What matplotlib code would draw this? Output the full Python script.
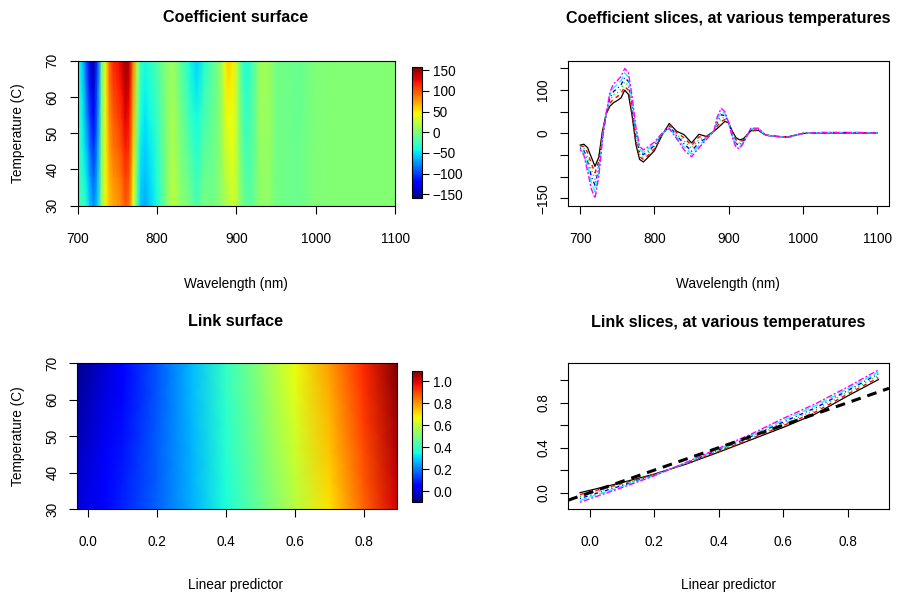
import numpy as np
import matplotlib
matplotlib.use('Agg')
import matplotlib.pyplot as plt

plt.rcParams['font.family'] = ['Liberation Sans', 'DejaVu Sans']
plt.rcParams['lines.scale_dashes'] = False
plt.rcParams['axes.unicode_minus'] = True

# ---- dados ----
temperaturas = [30, 38, 46, 54, 62, 70]

comprimento_onda = [700, 705, 710, 715, 720, 725, 730, 735, 740, 745, 750, 755, 760, 765,
                    770, 775, 780, 785, 790, 800, 810, 820, 830, 840, 850, 860, 870, 880,
                    885, 890, 895, 900, 905, 910, 915, 920, 930, 940, 950, 965, 980, 1000,
                    1025, 1050, 1075, 1100]

coef_t30 = [-27, -25, -33, -55, -76, -55, 5, 45, 63, 71, 76, 82, 100, 90,
            40, -25, -60, -66, -58, -40, -5, 23, 5, -3, -22, -2, -7, 5,
            12, 20, 28, 24, 5, -10, -15, -12, 6, 7, -4, -7, -8, 0,
            1, 1, 1, 1]
coef_t38 = [-29, -30, -44, -70, -91, -64, 1, 45, 69, 80, 85, 92, 108, 100,
            49, -17, -54, -60, -53, -36, -4, 21, 2, -10, -28, -8, -8, 5,
            18, 28, 32, 24, 2, -15, -19, -14, 7, 8, -4, -7, -8, 0,
            1, 1, 1, 1]
coef_t46 = [-31, -35, -55, -84, -106, -73, -3, 45, 76, 89, 94, 102, 119, 110,
            58, -9, -48, -55, -48, -32, -3, 18, -2, -17, -35, -14, -10, 5,
            23, 35, 37, 24, -1, -19, -23, -16, 8, 9, -4, -7, -8, 0,
            1, 1, 1, 1]
coef_t54 = [-34, -40, -66, -99, -120, -82, -7, 45, 82, 97, 104, 112, 129, 120,
            67, -1, -42, -49, -43, -28, -2, 16, -5, -24, -41, -21, -11, 5,
            29, 43, 41, 25, -4, -24, -27, -18, 10, 10, -4, -7, -9, 0,
            2, 2, 2, 1]
coef_t62 = [-36, -45, -77, -113, -135, -91, -11, 45, 89, 106, 113, 122, 140, 130,
            76, 7, -36, -44, -38, -24, -1, 13, -9, -31, -48, -27, -13, 5,
            34, 50, 46, 25, -7, -28, -31, -20, 11, 11, -4, -7, -9, 0,
            2, 2, 2, 1]
coef_t70 = [-38, -50, -88, -128, -150, -100, -15, 45, 95, 115, 122, 132, 150, 140,
            85, 15, -30, -38, -33, -20, 0, 11, -12, -38, -54, -33, -14, 5,
            40, 58, 50, 25, -10, -33, -35, -22, 12, 12, -4, -7, -9, 0,
            2, 2, 2, 1]

preditor_linear = [-0.03, 0.05, 0.1, 0.2, 0.3, 0.4, 0.5, 0.6, 0.7, 0.8, 0.895]

link_t30 = [0.000, 0.055, 0.090, 0.165, 0.255, 0.360, 0.470, 0.580, 0.700, 0.860, 1.005]
link_t38 = [-0.017, 0.043, 0.081, 0.162, 0.258, 0.367, 0.480, 0.596, 0.718, 0.876, 1.022]
link_t46 = [-0.034, 0.031, 0.072, 0.159, 0.261, 0.374, 0.490, 0.612, 0.736, 0.892, 1.039]
link_t54 = [-0.051, 0.019, 0.063, 0.156, 0.264, 0.381, 0.500, 0.628, 0.754, 0.908, 1.056]
link_t62 = [-0.068, 0.007, 0.054, 0.153, 0.267, 0.388, 0.510, 0.644, 0.772, 0.924, 1.073]
link_t70 = [-0.085, -0.005, 0.045, 0.150, 0.270, 0.395, 0.520, 0.660, 0.790, 0.940, 1.090]

coef_slices = [coef_t30, coef_t38, coef_t46, coef_t54, coef_t62, coef_t70]
link_slices = [link_t30, link_t38, link_t46, link_t54, link_t62, link_t70]

# estilos das linhas (paleta antiga do R, lty 1..6)
cores = ['black', 'red', '#00CD00', 'blue', 'cyan', 'magenta']
px = 0.72
tracos = ['-', (0, (4*px, 4*px)), (0, (1*px, 3*px)), (0, (1*px, 3*px, 4*px, 3*px)),
          (0, (7*px, 3*px)), (0, (2*px, 2*px, 6*px, 2*px))]

W, H = 897, 597


def caixa(l, t, r, b):
    return [l / W, 1 - b / H, (r - l) / W, (b - t) / H]


fig = plt.figure(figsize=(8.97, 5.97), dpi=100)

tam_tick = 9.8
tam_rotulo = 9.8
tam_titulo = 11.6


def estilo(ax):
    for s in ax.spines.values():
        s.set_linewidth(0.8)
    ax.tick_params(direction='out', length=6, width=0.8, labelsize=tam_tick)
    ax.tick_params(axis='x', pad=13)
    ax.tick_params(axis='y', pad=7)
    for lab in ax.get_yticklabels():
        lab.set_rotation(90)
        lab.set_va('center')


# ---- Coefficient surface ----
ax1 = fig.add_axes(caixa(77.7, 60.7, 395, 205.7))
Z1 = np.array(coef_slices)
m1 = ax1.pcolormesh(comprimento_onda, temperaturas, Z1, shading='gouraud', cmap='jet',
                    vmin=-160, vmax=157)
ax1.set_xlim(700, 1100)
ax1.set_ylim(30, 70)
ax1.set_xticks([700, 800, 900, 1000, 1100])
ax1.set_yticks([30, 40, 50, 60, 70])
estilo(ax1)
cax1 = fig.add_axes(caixa(411.7, 67.3, 421.7, 198.3))
cb1 = fig.colorbar(m1, cax=cax1, ticks=[-150, -100, -50, 0, 50, 100, 150])
cb1.outline.set_linewidth(0.8)
cax1.tick_params(length=5, width=0.8, labelsize=tam_tick, pad=3)

# ---- Coefficient slices ----
ax2 = fig.add_axes(caixa(568.3, 60.7, 889, 205.7))
for i in range(len(temperaturas)):
    ax2.plot(comprimento_onda, coef_slices[i], color=cores[i], linestyle=tracos[i],
             linewidth=0.9 if i == 0 else 1.0)
ax2.set_xlim(684, 1116)
ax2.set_ylim(-167, 168)
ax2.set_xticks([700, 800, 900, 1000, 1100])
ax2.set_yticks([-150, -100, -50, 0, 50, 100, 150])
ax2.set_yticklabels(['\u2212150', '', '', '0', '', '100', ''])
estilo(ax2)

# ---- Link surface ----
ax3 = fig.add_axes(caixa(77.35, 363.3, 396.5, 509))
Z3 = np.array(link_slices)
m3 = ax3.pcolormesh(preditor_linear, temperaturas, Z3, shading='gouraud', cmap='jet',
                    vmin=-0.097, vmax=1.094)
ax3.set_xlim(-0.03, 0.895)
ax3.set_ylim(30, 70)
ax3.set_xticks([0.0, 0.2, 0.4, 0.6, 0.8])
ax3.set_xticklabels(['0.0', '0.2', '0.4', '0.6', '0.8'])
ax3.set_yticks([30, 40, 50, 60, 70])
estilo(ax3)
cax3 = fig.add_axes(caixa(412.3, 370.7, 422.3, 501.7))
cb3 = fig.colorbar(m3, cax=cax3, ticks=[0.0, 0.2, 0.4, 0.6, 0.8, 1.0])
cb3.ax.set_yticklabels(['0.0', '0.2', '0.4', '0.6', '0.8', '1.0'])
cb3.outline.set_linewidth(0.8)
cax3.tick_params(length=5, width=0.8, labelsize=tam_tick, pad=3)

# ---- Link slices ----
ax4 = fig.add_axes(caixa(568.3, 363.3, 889, 509))
for i in range(len(temperaturas)):
    ax4.plot(preditor_linear, link_slices[i], color=cores[i], linestyle=tracos[i],
             linewidth=0.9 if i == 0 else 1.0)
ax4.axline((0, 0), slope=1, color='black', linestyle=(0, (7, 5)), linewidth=2.2)
ax4.set_xlim(-0.0663, 0.928)
ax4.set_ylim(-0.145, 1.150)
ax4.set_xticks([0.0, 0.2, 0.4, 0.6, 0.8])
ax4.set_xticklabels(['0.0', '0.2', '0.4', '0.6', '0.8'])
ax4.set_yticks([0.0, 0.2, 0.4, 0.6, 0.8, 1.0])
ax4.set_yticklabels(['0.0', '', '0.4', '', '0.8', ''])
estilo(ax4)

# ---- textos ----
fig.text(236 / W, 1 - 18 / H, 'Coefficient surface', ha='center', va='center',
         fontsize=tam_titulo, fontweight='bold')
fig.text(728 / W, 1 - 18 / H, 'Coefficient slices, at various temperatures', ha='center',
         va='center', fontsize=tam_titulo, fontweight='bold')
fig.text(236 / W, 1 - 322 / H, 'Link surface', ha='center', va='center',
         fontsize=tam_titulo, fontweight='bold')
fig.text(728 / W, 1 - 322 / H, 'Link slices, at various temperatures', ha='center',
         va='center', fontsize=tam_titulo, fontweight='bold')

fig.text(236 / W, 1 - 284 / H, 'Wavelength (nm)', ha='center', va='center', fontsize=tam_rotulo)
fig.text(728 / W, 1 - 284 / H, 'Wavelength (nm)', ha='center', va='center', fontsize=tam_rotulo)
fig.text(236 / W, 1 - 585 / H, 'Linear predictor', ha='center', va='center', fontsize=tam_rotulo)
fig.text(728 / W, 1 - 585 / H, 'Linear predictor', ha='center', va='center', fontsize=tam_rotulo)
fig.text(18 / W, 1 - 133 / H, 'Temperature (C)', ha='center', va='center', rotation=90,
         fontsize=tam_rotulo)
fig.text(18 / W, 1 - 436 / H, 'Temperature (C)', ha='center', va='center', rotation=90,
         fontsize=tam_rotulo)

fig.savefig('out.png', dpi=100)
